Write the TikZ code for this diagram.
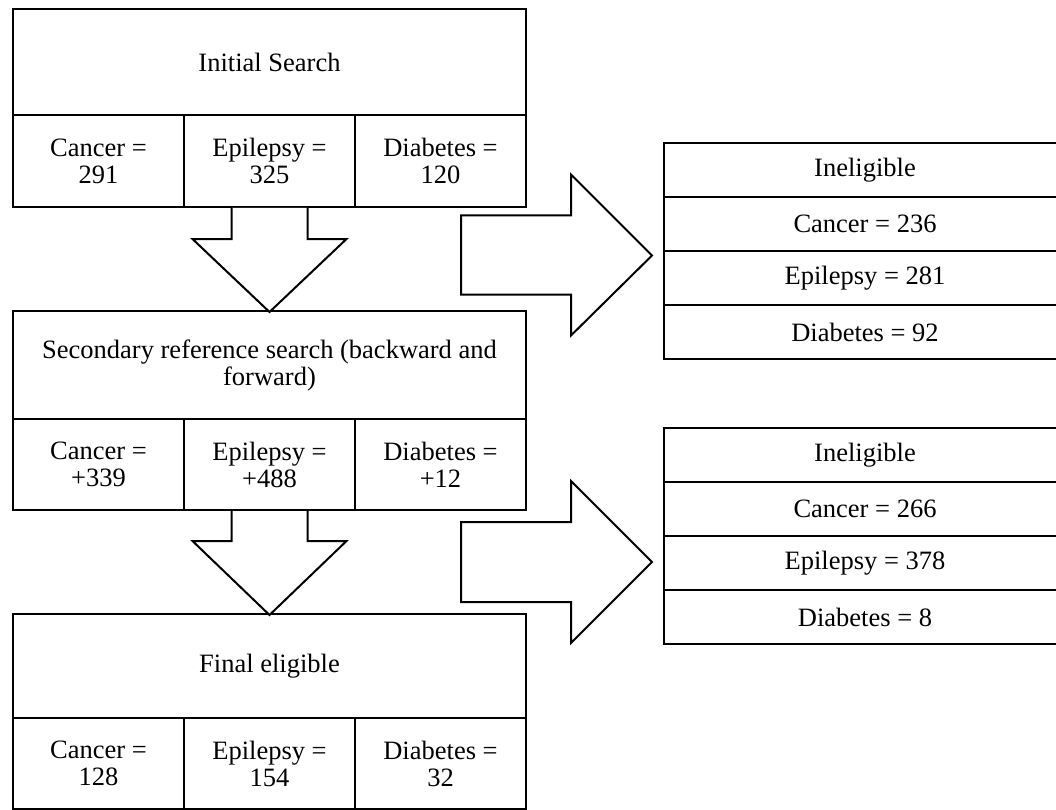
\documentclass[tikz,border=0pt]{standalone}
\usepackage{fontspec}
\setmainfont{Liberation Serif}
\usetikzlibrary{calc}
\tikzset{
  box/.style={draw, line width=2pt, inner sep=0pt, anchor=north west, align=center,
    font=\fontsize{26.5}{27}\selectfont},
  blockarrow/.style={draw, line width=2pt, fill=white, line join=miter},
}
\begin{document}
\begin{tikzpicture}[x=1pt,y=-1pt]
\useasboundingbox (0,0) rectangle (1056,810);
\clip (0,0) rectangle (1056,810);
% Initial search
\node[box, minimum width=513, minimum height=106] (t0) at (12,8) {Initial Search};
\node[box, minimum width=171, minimum height=92] (t1) at (12,114) {Cancer =\\291};
\node[box, minimum width=171, minimum height=92] (t2) at (183,114) {Epilepsy =\\325};
\node[box, minimum width=171, minimum height=92] (t3) at (354,114) {Diabetes =\\120};
% Secondary
\node[box, minimum width=513, minimum height=108] (s0) at (12,310) {Secondary reference search (backward and\\forward)};
\node[box, minimum width=171, minimum height=91] (s1) at (12,418) {Cancer =\\+339};
\node[box, minimum width=171, minimum height=91] (s2) at (183,418) {Epilepsy =\\+488};
\node[box, minimum width=171, minimum height=91] (s3) at (354,418) {Diabetes =\\+12};
% Final
\node[box, minimum width=513, minimum height=104] (f0) at (12,613) {Final eligible};
\node[box, minimum width=171, minimum height=91] (f1) at (12,717) {Cancer =\\128};
\node[box, minimum width=171, minimum height=91] (f2) at (183,717) {Epilepsy =\\154};
\node[box, minimum width=171, minimum height=91] (f3) at (354,717) {Diabetes =\\32};
% Ineligible 1
\node[box, minimum width=402, minimum height=54] (a0) at (663,142) {Ineligible};
\node[box, minimum width=402, minimum height=54] (a1) at (663,196) {Cancer = 236};
\node[box, minimum width=402, minimum height=54] (a2) at (663,250) {Epilepsy = 281};
\node[box, minimum width=402, minimum height=54] (a3) at (663,304) {Diabetes = 92};
% Ineligible 2
\node[box, minimum width=402, minimum height=54] (b0) at (663,427) {Ineligible};
\node[box, minimum width=402, minimum height=54] (b1) at (663,481) {Cancer = 266};
\node[box, minimum width=402, minimum height=54] (b2) at (663,535) {Epilepsy = 378};
\node[box, minimum width=402, minimum height=54] (b3) at (663,589) {Diabetes = 8};
% Down block arrows
\draw[blockarrow] ($(t2.south)+(-38,0)$) -- ($(t2.south)+(-38,31)$) -- ($(t2.south)+(-77,31)$)
  -- ($(s0.north)+(0,2)$) -- ($(t2.south)+(77,31)$) -- ($(t2.south)+(38,31)$) -- ($(t2.south)+(38,0)$);
\draw[blockarrow] ($(s2.south)+(-38,0)$) -- ($(s2.south)+(-38,30)$) -- ($(s2.south)+(-77,30)$)
  -- ($(f0.north)+(0,2)$) -- ($(s2.south)+(77,30)$) -- ($(s2.south)+(38,30)$) -- ($(s2.south)+(38,0)$);
% Right block arrows
\coordinate (r1) at (652,255.5);
\coordinate (r2) at (652,562);
\draw[blockarrow] (r1) -- ++(-81,-81) -- ++(0,41) -- ++(-110,0) -- ++(0,79) -- ++(110,0) -- ++(0,41) -- cycle;
\draw[blockarrow] (r2) -- ++(-81,-81) -- ++(0,41) -- ++(-110,0) -- ++(0,80) -- ++(110,0) -- ++(0,41) -- cycle;
\end{tikzpicture}
\end{document}
